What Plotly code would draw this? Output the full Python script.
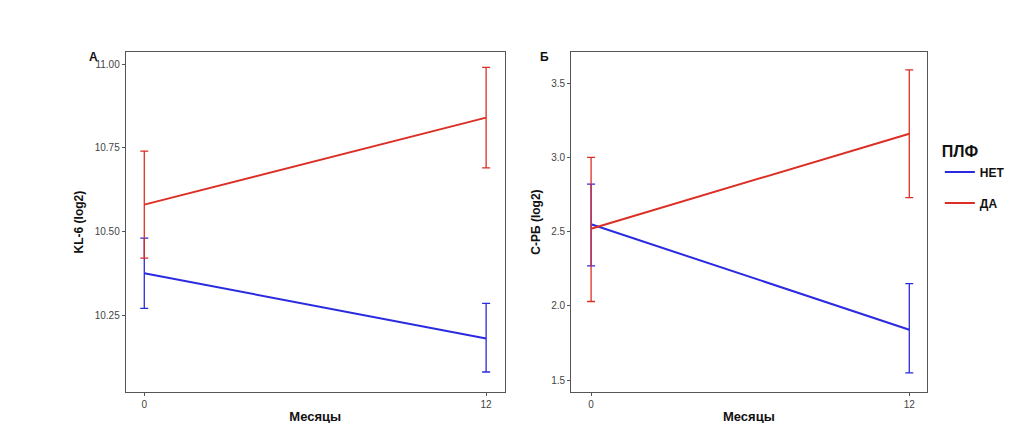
import plotly.graph_objects as go

months = [0, 12]
kl6_net = [10.375, 10.18]
kl6_net_hi = [10.48, 10.285]
kl6_net_lo = [10.27, 10.08]
kl6_da = [10.58, 10.84]
kl6_da_hi = [10.74, 10.99]
kl6_da_lo = [10.42, 10.69]

crb_net = [2.55, 1.84]
crb_net_hi = [2.82, 2.15]
crb_net_lo = [2.27, 1.55]
crb_da = [2.52, 3.16]
crb_da_hi = [3.0, 3.59]
crb_da_lo = [2.03, 2.73]

BLUE = "#2a2ae0"
RED = "#dc2e24"

fig = go.Figure()


def add(y, hi, lo, color, name, xa, ya, show):
    fig.add_trace(go.Scatter(
        x=months, y=y, mode="lines", name=name, legendgroup=name, showlegend=show,
        line=dict(color=color, width=2), xaxis=xa, yaxis=ya,
        error_y=dict(type="data", symmetric=False,
                     array=[h - v for h, v in zip(hi, y)],
                     arrayminus=[v - l for v, l in zip(y, lo)],
                     color=color, thickness=1.3, width=4),
    ))


add(kl6_net, kl6_net_hi, kl6_net_lo, BLUE, "НЕТ", "x", "y", True)
add(kl6_da, kl6_da_hi, kl6_da_lo, RED, "ДА", "x", "y", True)
add(crb_net, crb_net_hi, crb_net_lo, BLUE, "НЕТ", "x2", "y2", False)
add(crb_da, crb_da_hi, crb_da_lo, RED, "ДА", "x2", "y2", False)

ax = dict(showgrid=False, zeroline=False, showline=True, mirror=True, linecolor="#555",
          linewidth=1, ticks="outside", ticklen=3, tickcolor="#555", automargin=False,
          tickfont=dict(size=10, color="#444"))
fig.update_layout(
    width=1024, height=423, margin=dict(l=0, r=0, t=0, b=0, autoexpand=False),
    plot_bgcolor="white", paper_bgcolor="white",
    font=dict(family="Liberation Sans, Arial", color="#111"),
    xaxis=dict(ax, domain=[0.115, 0.485], range=[-0.65, 12.65], tickvals=[0, 12],
               title=dict(text="<b>Месяцы</b>", font=dict(size=13), standoff=2)),
    yaxis=dict(ax, domain=[0.092, 0.896], range=[10.02, 11.036],
               tickvals=[10.25, 10.5, 10.75, 11.0], tickformat=".2f",
               title=dict(text="<b>KL-6 (log2)</b>", font=dict(size=12), standoff=8)),
    xaxis2=dict(ax, domain=[0.55, 0.897], range=[-0.75, 12.65], tickvals=[0, 12], anchor="y2",
                title=dict(text="<b>Месяцы</b>", font=dict(size=13), standoff=2)),
    yaxis2=dict(ax, domain=[0.092, 0.896], range=[1.42, 3.71], anchor="x2",
                tickvals=[1.5, 2.0, 2.5, 3.0, 3.5], tickformat=".1f",
                title=dict(text="<b>C-РБ (log2)</b>", font=dict(size=12), standoff=8)),
    legend=dict(x=0.91, y=0.6, xanchor="left", yanchor="middle",
                title=dict(text="<b>ПЛФ</b>", font=dict(size=16)),
                font=dict(size=12), tracegroupgap=12),
    annotations=[
        dict(text="<b>А</b>", x=0.077, y=0.905, xref="paper", yref="paper",
             showarrow=False, font=dict(size=12)),
        dict(text="<b>Б</b>", x=0.524, y=0.905, xref="paper", yref="paper",
             showarrow=False, font=dict(size=12)),
    ],
)
fig.for_each_trace(lambda t: t.update(name="<b>" + t.name + "</b>"))

fig.write_html("out.html")
